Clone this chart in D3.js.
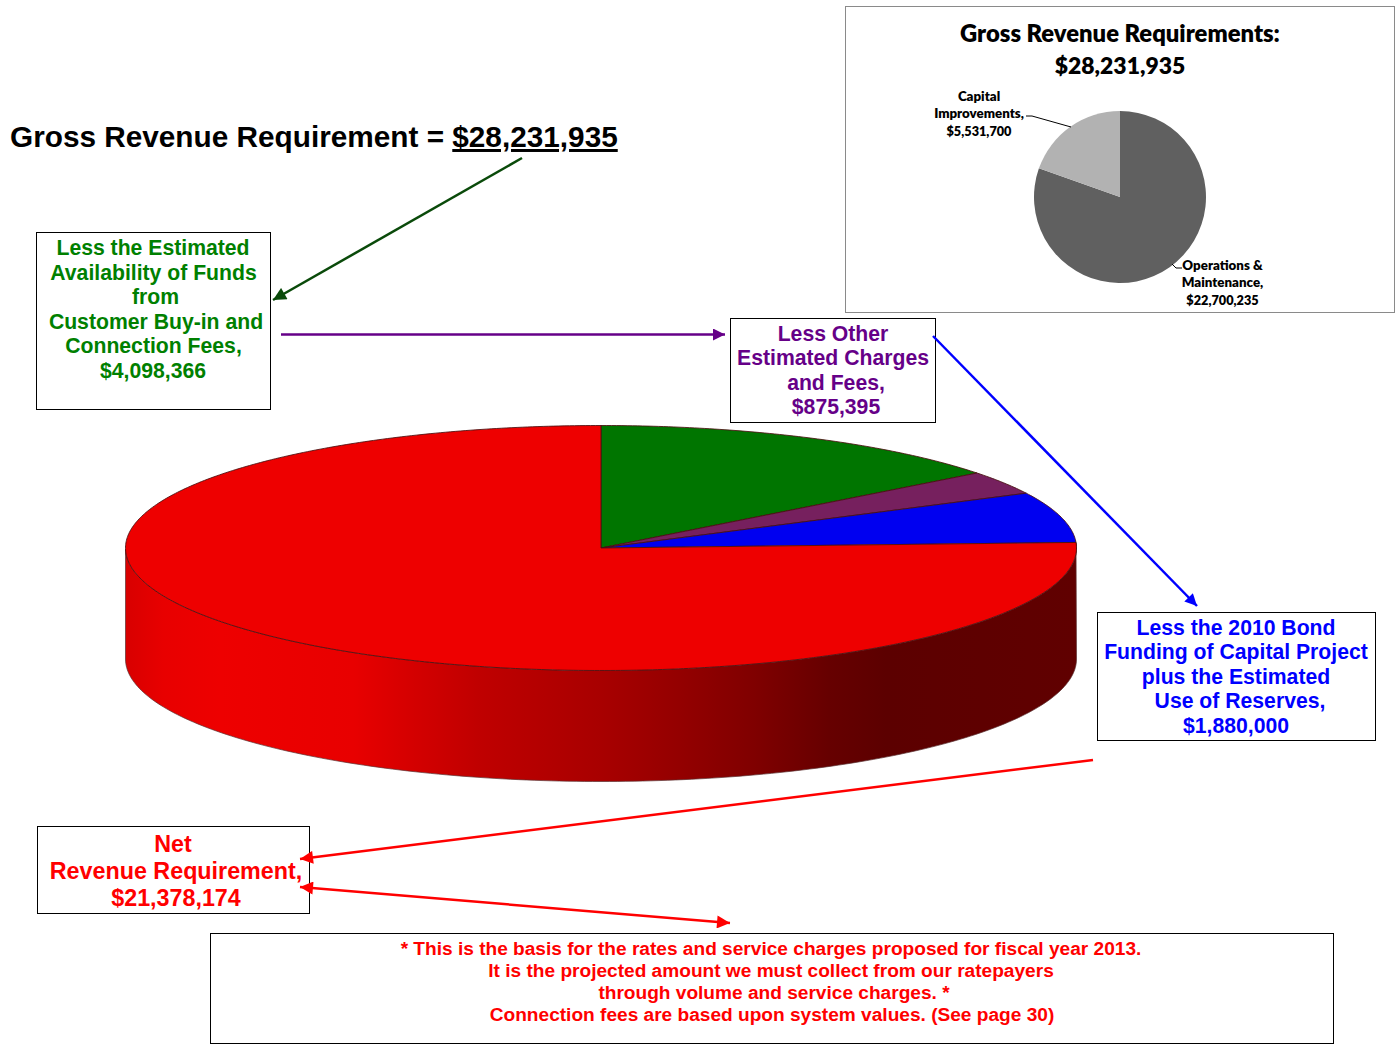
<!DOCTYPE html>
<html>
<head>
<meta charset="utf-8">
<script src="https://cdn.jsdelivr.net/npm/d3@7/dist/d3.min.js"></script>
<style>
html,body{margin:0;padding:0;background:#fff}
svg{display:block}
text{font-family:"Liberation Sans",Arial,sans-serif;font-weight:700}
.inset text{font-family:Lato,"Open Sans",sans-serif;font-weight:800}
</style>
</head>
<body>
<svg id="chart" width="1400" height="1046"></svg>
<script>
// Net revenue breakdown (large pie), clockwise from 12 o'clock
const netCategories = ["Customer Buy-in and Connection Fees", "Other Charges and Fees", "Bond Funding and Reserves", "Net Revenue Requirement"];
const netValues = [4098366, 875395, 1880000, 21378174];
const netColors = ["#007500", "#76205e", "#0000f0", "#ee0000"];

// Gross revenue breakdown (small pie)
const grossCategories = ["Operations & Maintenance", "Capital Improvements"];
const grossValues = [22700235, 5531700];
const grossColors = ["#606060", "#b2b2b2"];

const svg = d3.select("#chart");
const defs = svg.append("defs");

// Shaded wall of the disc, dark towards the right
const wallStops = [[0,"#d80000"],[0.04,"#e80000"],[0.1,"#ee0000"],[0.24,"#e80000"],[0.29,"#d80000"],[0.33,"#cc0000"],[0.37,"#c00000"],[0.5,"#a80000"],[0.55,"#9c0000"],[0.66,"#800000"],[0.74,"#660000"],[0.8,"#5c0000"],[1,"#600000"]];
const wall = defs.append("linearGradient").attr("id","wallShade");
wallStops.forEach(([o,c]) => wall.append("stop").attr("offset",o).attr("stop-color",c));

function arrowMarker(id, color, w, h) {
  defs.append("marker").attr("id",id).attr("viewBox","0 0 10 10").attr("refX",10).attr("refY",5)
    .attr("markerUnits","userSpaceOnUse").attr("markerWidth",w).attr("markerHeight",h)
    .attr("orient","auto-start-reverse")
    .append("path").attr("d","M0,0L10,5L0,10Z").attr("fill",color);
}
arrowMarker("arrowGreen","#0a4a0a",15,13);
arrowMarker("arrowPurple","#660088",12,12);
arrowMarker("arrowBlue","#0000ff",13,12);
arrowMarker("arrowRed","#ff0000",15,13);

// Large tilted pie
const cx = 601, cy = 548, rx = 475.5, ry = 122.5, depth = 111;
const pieLayout = d3.pie().sort(null).startAngle(0).endAngle(2 * Math.PI);
const netArcs = pieLayout(netValues);
const xProj = a => rx * Math.sin(a), yProj = a => -ry * Math.cos(a);

// The wall starts where the red slice meets the rim and runs round the front
const wallTop = d3.range(netArcs[3].startAngle, 3 * Math.PI / 2 + 0.001, Math.PI / 180);
const wallBottom = d3.range(Math.PI / 2, 3 * Math.PI / 2 + 0.001, Math.PI / 180);
const wallPath = d3.path();
wallTop.forEach((a, i) => {
  i ? wallPath.lineTo(xProj(a), yProj(a)) : wallPath.moveTo(xProj(a), yProj(a));
});
wallBottom.slice().reverse().forEach(a => wallPath.lineTo(xProj(a), yProj(a) + depth));
wallPath.closePath();

const disc = svg.append("g").attr("transform",`translate(${cx},${cy})`);
disc.append("path").attr("d",wallPath.toString()).attr("fill","url(#wallShade)")
  .attr("stroke","#5a3030").attr("stroke-width",0.7);
disc.selectAll("path.slice").data(netArcs).join("path").attr("class","slice")
  .attr("d", d => {
    const p = d3.path();
    p.moveTo(0,0);
    const n = Math.max(2, Math.ceil((d.endAngle - d.startAngle) * 90));
    d3.range(n + 1).forEach(i => {
      const a = d.startAngle + (d.endAngle - d.startAngle) * i / n;
      p.lineTo(xProj(a), yProj(a));
    });
    p.closePath();
    return p.toString();
  })
  .attr("fill",(d,i) => netColors[i])
  .attr("stroke","#4a1010").attr("stroke-width",1).attr("stroke-opacity",0.85);

// Small gross revenue pie and its frame
const inset = svg.append("g").attr("class","inset");
inset.append("rect").attr("x",845.5).attr("y",6.5).attr("width",549).attr("height",306)
  .attr("fill","#fff").attr("stroke","#8a8a8a").attr("stroke-width",1);
const insetCenter = inset.append("g").attr("transform","translate(1120,197)");
insetCenter.selectAll("path").data(pieLayout(grossValues)).join("path")
  .attr("d", d3.arc().innerRadius(0).outerRadius(86))
  .attr("fill",(d,i) => grossColors[i]);

function textBlock(parent, lines, color, size) {
  lines.forEach(([t,x,y,own]) => parent.append("text").attr("x",x).attr("y",y)
    .attr("text-anchor","middle").attr("font-size",own || size).attr("fill",color).text(t));
}
textBlock(inset, [["Gross Revenue Requirements:",1120,42],["$28,231,935",1120,74,22.9]], "#000", 23.8);
textBlock(inset, [["Capital",979,101],["Improvements,",979,118],["$5,531,700",979,136,12.7]], "#000", 13.3);
textBlock(inset, [["Operations &",1222.5,270],["Maintenance,",1222.5,287],["$22,700,235",1222.5,305,12.7]], "#000", 13.3);
const leader = d3.line();
inset.append("path").attr("d",leader([[1026,116],[1032,116],[1071,127]])).attr("fill","none").attr("stroke","#000").attr("stroke-width",1);
inset.append("path").attr("d",leader([[1172,264],[1176,268],[1182,268]])).attr("fill","none").attr("stroke","#000").attr("stroke-width",1);

// Headline
const head = svg.append("text").attr("x",10).attr("y",147).attr("font-size",29.75).attr("fill","#000");
head.append("tspan").text("Gross Revenue Requirement = ");
head.append("tspan").attr("text-decoration","underline").text("$28,231,935");

// Framed callouts
function box(x, y, w, h) {
  svg.append("rect").attr("x",x).attr("y",y).attr("width",w).attr("height",h)
    .attr("fill","#fff").attr("stroke","#000").attr("stroke-width",1);
}
box(36.5,232.5,234,177);
textBlock(svg, [["Less the Estimated",153,255],["Availability of Funds",153.5,280],["from",155.5,304],["Customer Buy-in and",156,329],["Connection Fees,",153.5,353],["$4,098,366",153,378]], "#008000", 21.2);
box(730.5,318.5,205,104);
textBlock(svg, [["Less Other",833,341],["Estimated Charges",833,365],["and Fees,",836,390],["$875,395",836,414]], "#660088", 21.2);
box(1097.5,612.5,278,128);
textBlock(svg, [["Less the 2010 Bond",1236,635],["Funding of Capital Project",1236,659],["plus the Estimated",1236,684],["Use of Reserves,",1240,708],["$1,880,000",1236,733]], "#0000ff", 21.2);
box(37.5,826.5,272,87);
textBlock(svg, [["Net",173,852],["Revenue Requirement,",176,879],["$21,378,174",176,906]], "#ff0000", 23.3);
box(210.5,933.5,1123,110);
textBlock(svg, [["* This is the basis for the rates and service charges proposed for fiscal year 2013.",771,955],["It is the projected amount we must collect from our ratepayers",771,977],["through volume and service charges. *",774,999],["Connection fees are based upon system values. (See page 30)",772,1021]], "#ff0000", 19.1);

// Connector arrows
function arrow(pts, color, marker, both) {
  const l = svg.append("path").attr("d",leader(pts)).attr("fill","none").attr("stroke",color).attr("stroke-width",2.5)
    .attr("marker-end",`url(#${marker})`);
  if (both) l.attr("marker-start",`url(#${marker})`);
}
arrow([[522,158],[273,300]],"#0a4a0a","arrowGreen");
arrow([[281,334.5],[725,334.5]],"#660088","arrowPurple");
arrow([[933,336],[1197,606]],"#0000ff","arrowBlue");
arrow([[1093,760],[300,859]],"#ff0000","arrowRed");
arrow([[300,887],[730,923]],"#ff0000","arrowRed",true);
</script>
</body>
</html>
